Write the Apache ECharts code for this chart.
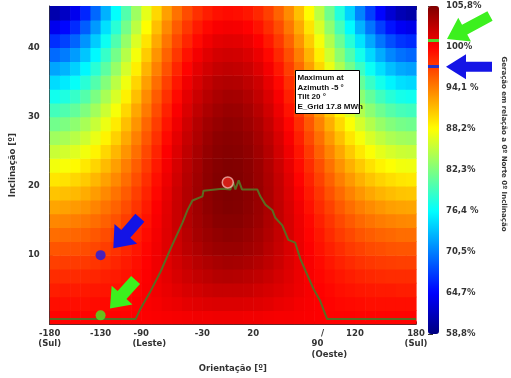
<!DOCTYPE html>
<html><head><meta charset="utf-8">
<script src="https://cdn.jsdelivr.net/npm/echarts@6/dist/echarts.min.js"></script>
<style>html,body{margin:0;padding:0;background:#fff}#c{width:511px;height:378px}</style>
</head><body><div id="c"></div>
<script>
// ---- data ----
const orientacao = [-175,-165,-155,-145,-135,-125,-115,-105,-95,-85,-75,-65,-55,-45,-35,-25,-15,-5,5,15,25,35,45,55,65,75,85,95,105,115,125,135,145,155,165,175];
const inclinacao = [1,3,5,7,9,11,13,15,17,19,21,23,25,27,29,31,33,35,37,39,41,43,45];
const geracao = [
[99.8,99.8,99.8,99.8,99.8,99.8,99.9,99.9,100,100,100.1,100.2,100.3,100.4,100.5,100.5,100.6,100.6,100.6,100.5,100.5,100.4,100.3,100.3,100.2,100.1,100,99.9,99.9,99.9,99.8,99.8,99.8,99.8,99.8,99.8],
[99.3,99.3,99.3,99.3,99.4,99.5,99.6,99.7,99.9,100.1,100.3,100.6,100.8,101.1,101.3,101.5,101.6,101.6,101.6,101.5,101.4,101.2,100.9,100.7,100.4,100.2,100,99.8,99.6,99.5,99.4,99.3,99.3,99.3,99.3,99.3],
[98.6,98.7,98.7,98.8,98.9,99.0,99.2,99.4,99.7,100.1,100.5,100.9,101.3,101.7,102.0,102.3,102.5,102.5,102.5,102.4,102.1,101.8,101.5,101.1,100.7,100.3,99.9,99.6,99.3,99.1,98.9,98.8,98.7,98.7,98.6,98.6],
[97.9,97.9,98.0,98.1,98.2,98.5,98.7,99.1,99.5,100.0,100.6,101.1,101.7,102.2,102.7,103.0,103.3,103.4,103.3,103.1,102.8,102.4,101.9,101.4,100.8,100.2,99.7,99.3,98.9,98.6,98.3,98.1,98.0,97.9,97.9,97.9],
[97.0,97.1,97.2,97.3,97.5,97.8,98.2,98.7,99.3,99.9,100.6,101.3,102.0,102.6,103.2,103.6,103.9,104.1,104.0,103.8,103.4,102.9,102.3,101.6,100.9,100.2,99.5,98.9,98.4,98.0,97.6,97.4,97.2,97.1,97.0,97.0],
[96.0,96.1,96.2,96.4,96.7,97.1,97.6,98.2,98.9,99.7,100.5,101.4,102.2,103.0,103.6,104.2,104.5,104.6,104.6,104.3,103.9,103.2,102.5,101.7,100.9,100.0,99.2,98.5,97.9,97.3,96.9,96.5,96.3,96.1,96.0,96.0],
[94.9,95.0,95.2,95.5,95.9,96.4,97.0,97.7,98.5,99.4,100.4,101.4,102.3,103.2,104.0,104.5,104.9,105.1,105.0,104.7,104.2,103.5,102.7,101.8,100.8,99.8,98.9,98.0,97.2,96.6,96.0,95.6,95.3,95.1,94.9,94.9],
[93.7,93.8,94.1,94.4,94.9,95.5,96.2,97.1,98.1,99.1,100.2,101.3,102.4,103.4,104.2,104.8,105.3,105.4,105.4,105.0,104.5,103.7,102.8,101.8,100.7,99.6,98.5,97.5,96.6,95.8,95.1,94.6,94.2,93.9,93.7,93.6],
[92.3,92.5,92.8,93.2,93.8,94.6,95.4,96.4,97.5,98.7,100.0,101.2,102.4,103.4,104.3,105.0,105.5,105.7,105.6,105.2,104.6,103.8,102.8,101.7,100.5,99.2,98.0,96.9,95.8,94.9,94.1,93.5,93.0,92.6,92.4,92.3],
[90.9,91.1,91.4,92.0,92.7,93.6,94.6,95.7,97.0,98.3,99.6,101.0,102.3,103.4,104.4,105.1,105.6,105.8,105.7,105.3,104.7,103.8,102.7,101.5,100.2,98.8,97.5,96.2,95.0,93.9,93.0,92.2,91.6,91.2,90.9,90.8],
[89.3,89.5,90.0,90.6,91.5,92.5,93.6,94.9,96.3,97.8,99.3,100.7,102.1,103.3,104.3,105.1,105.6,105.8,105.7,105.3,104.6,103.7,102.6,101.3,99.8,98.4,96.9,95.5,94.1,92.9,91.8,90.9,90.2,89.7,89.3,89.2],
[87.6,87.9,88.4,89.2,90.1,91.3,92.6,94.1,95.6,97.2,98.8,100.4,101.8,103.1,104.1,105.0,105.5,105.7,105.6,105.2,104.5,103.5,102.3,101.0,99.4,97.9,96.3,94.7,93.2,91.8,90.6,89.5,88.7,88.1,87.6,87.5],
[85.7,86.1,86.7,87.6,88.7,90.0,91.5,93.1,94.8,96.6,98.3,100.0,101.5,102.8,103.9,104.8,105.3,105.5,105.4,105.0,104.3,103.3,102.0,100.6,99.0,97.3,95.5,93.8,92.2,90.6,89.2,88.0,87.0,86.3,85.8,85.6],
[83.8,84.2,84.9,85.9,87.2,88.7,90.3,92.1,94.0,95.9,97.7,99.5,101.1,102.5,103.6,104.5,105.1,105.3,105.2,104.8,104.0,103.0,101.7,100.2,98.5,96.6,94.8,92.9,91.1,89.3,87.8,86.4,85.3,84.4,83.9,83.7],
[81.7,82.2,83.0,84.2,85.6,87.3,89.1,91.1,93.1,95.2,97.1,99.0,100.6,102.1,103.3,104.2,104.7,105.0,104.9,104.4,103.7,102.6,101.2,99.7,97.9,95.9,93.9,91.9,89.9,88.0,86.2,84.7,83.4,82.5,81.9,81.6],
[79.5,80.1,81.0,82.3,83.9,85.8,87.8,90.0,92.2,94.3,96.4,98.4,100.1,101.6,102.8,103.7,104.3,104.6,104.5,104.0,103.2,102.1,100.7,99.1,97.2,95.2,93.0,90.8,88.7,86.6,84.6,82.9,81.5,80.4,79.7,79.4],
[77.2,77.8,78.9,80.3,82.1,84.2,86.4,88.8,91.1,93.5,95.7,97.7,99.5,101.1,102.3,103.2,103.8,104.1,104.0,103.5,102.7,101.6,100.2,98.5,96.5,94.4,92.1,89.7,87.3,85.1,82.9,81.0,79.4,78.2,77.4,77.1],
[74.8,75.5,76.7,78.3,80.2,82.5,85.0,87.5,90.1,92.6,94.9,97.0,98.9,100.5,101.7,102.7,103.3,103.5,103.4,102.9,102.2,101.0,99.6,97.8,95.8,93.5,91.1,88.5,86.0,83.5,81.1,79.0,77.3,75.9,75.0,74.7],
[72.3,73.0,74.3,76.1,78.3,80.7,83.4,86.2,88.9,91.6,94.0,96.2,98.2,99.8,101.1,102.0,102.6,102.8,102.7,102.3,101.5,100.4,98.9,97.1,95.0,92.6,90.0,87.3,84.5,81.8,79.2,76.9,75.0,73.5,72.5,72.1],
[69.6,70.4,71.9,73.8,76.2,78.9,81.8,84.8,87.7,90.5,93.1,95.4,97.4,99.1,100.4,101.3,101.9,102.1,102.0,101.6,100.8,99.6,98.1,96.3,94.1,91.6,88.9,86.0,83.0,80.1,77.3,74.7,72.6,70.9,69.9,69.4],
[66.8,67.7,69.3,71.5,74.1,77.0,80.1,83.3,86.5,89.4,92.1,94.5,96.6,98.2,99.5,100.5,101.1,101.3,101.2,100.8,100.0,98.8,97.3,95.4,93.1,90.5,87.7,84.6,81.4,78.2,75.2,72.5,70.1,68.3,67.1,66.6],
[63.9,64.9,66.6,69.0,71.8,75.0,78.3,81.8,85.1,88.2,91.1,93.6,95.7,97.4,98.7,99.6,100.2,100.4,100.3,99.9,99.1,97.9,96.4,94.4,92.1,89.4,86.4,83.1,79.7,76.3,73.0,70.1,67.5,65.5,64.2,63.7],
[60.9,62.0,63.9,66.4,69.5,72.9,76.5,80.2,83.7,87.0,90.0,92.6,94.7,96.4,97.7,98.6,99.2,99.4,99.3,98.9,98.1,97.0,95.4,93.5,91.1,88.3,85.1,81.6,78.0,74.4,70.8,67.6,64.8,62.7,61.3,60.7]
];
// optimal tilt per orientation (olive line)
const linhaAz   = [-180,-95.6,-90.7,-80.9,-71.1,-61.3,-49.5,-44.6,-39.7,-29.9,-28.9,-10.3,-2.4,0.2,2.5,5.7,9,24,27,32,38.8,41.7,48.6,54.5,61.3,66.2,73,79,85.8,92.7,180];
const linhaTilt = [0.76,0.76,2.3,4.8,7.6,10.9,14.7,16.5,17.9,18.5,19.3,19.6,19.5,20.6,19.5,20.8,19.5,19.5,18.5,17.3,16.5,15.4,14.3,12.2,11.8,9.5,7.2,5.2,3.4,0.76,0.76];
const pontoMax   = [-5, 20.5];
const pontoAzul  = [-130, 10];
const pontoVerde = [-130, 1.3];
const marcaVerde = 100.93;
const marcaAzul  = 97.1;
const escalaMin = 58.8, escalaMax = 105.8, escalaPasso = 5.875;
const escalaLabels = ['58,8%','64,7%','70,5%','76,4 %','82,3%','88,2%','94,1 %','100%','105,8%'];
const xTickValues = [-180,-130,-90,-30,20,90,120,180];
const xTickLabels = ['-180\n(Sul)','-130','-90\n(Leste)','-30','20','/\n90\n(Oeste)','120','180\n(Sul)'];
const yTickValues = [10,20,30,40];
const textoNorte = '0 (Norte)';
const textoMax = 'Maximum at\nAzimuth -5 °\nTilt 20 °\nE_Grid 17.8 MWh';
const tituloEscala = 'Geração em relação a 0º Norte 0º Inclinação';

// ---- chart ----
const chart = echarts.init(document.getElementById('c'), null, {width: 511, height: 378});
const jet = ['#00007f','#0000ff','#007fff','#00ffff','#7fff7f','#ffff00','#ff7f00','#ff0000','#7f0000'];
const cellW = orientacao[1] - orientacao[0];
const cellH = inclinacao[1] - inclinacao[0];
const dados = [];
inclinacao.forEach((t, r) => orientacao.forEach((a, c) => dados.push([a, t, geracao[r][c]])));

const axisColor = '#333';
const font = {fontFamily: 'DejaVu Sans', fontWeight: 'bold', fontSize: 8.5, color: '#333'};
const lineStyleMap = {'(Leste)': 'r8', '90': 'l7', '/': 'l2', '(Oeste)': 'r5'};
const baseRich = Object.assign({lineHeight: 10.5}, font);
const rich = {
  a: baseRich,
  r8: Object.assign({}, baseRich, {padding: [0, 0, 0, 16]}),
  l7: Object.assign({}, baseRich, {padding: [0, 14, 0, 0]}),
  l2: Object.assign({}, baseRich, {padding: [0, 4, 0, 0]}),
  r5: Object.assign({}, baseRich, {padding: [0, 0, 0, 10]})
};

const option = {
  animation: false,
  backgroundColor: '#fff',
  grid: [
    {left: 49, top: 6, width: 367, height: 328, show: false},
    {left: 428, top: 6, width: 11, height: 328, show: false}
  ],
  xAxis: [
    {type: 'value', gridIndex: 0, min: -180, max: 180, interval: 10, position: 'bottom',
     name: 'Orientação [º]', nameLocation: 'middle', nameGap: 31, nameTextStyle: font,
     axisLine: {show: true, onZero: false, lineStyle: {color: axisColor}},
     axisTick: {show: true, inside: true, length: 3, lineStyle: {color: axisColor}},
     axisLabel: {margin: 4, rich: rich, formatter: function (v) {
        const i = xTickValues.findIndex(t => Math.abs(t - v) < 1e-6);
        if (i < 0) return '';
        return xTickLabels[i].split('\n').map(s => '{' + (lineStyleMap[s] || 'a') + '|' + s + '}').join('\n');
     }},
     splitLine: {show: false}},
    {type: 'value', gridIndex: 0, min: -180, max: 180, interval: 12, position: 'top',
     axisLine: {show: true, onZero: false, lineStyle: {color: axisColor}},
     axisTick: {show: true, inside: true, length: 4, lineStyle: {color: axisColor}},
     axisLabel: {show: false}, splitLine: {show: false}},
    {type: 'value', gridIndex: 1, min: 0, max: 1, show: false}
  ],
  yAxis: [
    {type: 'value', gridIndex: 0, min: 0, max: 46, interval: 5,
     name: 'Inclinação [º]', nameLocation: 'middle', nameGap: 32, nameTextStyle: font,
     axisLine: {show: true, onZero: false, lineStyle: {color: axisColor}},
     axisTick: {show: true, inside: true, length: 3, lineStyle: {color: axisColor}},
     axisLabel: Object.assign({margin: 10, formatter: v => yTickValues.indexOf(v) >= 0 ? String(v) : ''}, font),
     splitLine: {show: false}},
    {type: 'value', gridIndex: 1, min: escalaMin, max: escalaMax, interval: escalaPasso, position: 'right',
     axisLine: {show: false},
     axisTick: {show: true, length: 5, lineStyle: {color: axisColor}},
     minorTick: {show: true, splitNumber: 2, length: 3, lineStyle: {color: axisColor}},
     axisLabel: Object.assign({margin: 7, formatter: v => escalaLabels[Math.round((v - escalaMin) / escalaPasso)] || ''}, font),
     splitLine: {show: false}, minorSplitLine: {show: false}}
  ],
  visualMap: {
    type: 'continuous', min: escalaMin, max: escalaMax, dimension: 2, seriesIndex: 0,
    left: 428, top: 6, itemWidth: 11, itemHeight: 328, padding: 0,
    calculable: false, hoverLink: false, inRange: {color: jet}
  },
  series: [
    {type: 'custom', xAxisIndex: 0, yAxisIndex: 0, clip: true, data: dados, z: 1,
     renderItem: function (params, api) {
       const a = api.value(0), t = api.value(1);
       const p0 = api.coord([a - cellW / 2, t + cellH / 2]);
       const p1 = api.coord([a + cellW / 2, t - cellH / 2]);
       return {type: 'rect', shape: {x: p0[0], y: p0[1], width: p1[0] - p0[0] + 0.6, height: p1[1] - p0[1] + 0.6},
               style: {fill: api.visual('color')}};
     }},
    {type: 'line', xAxisIndex: 0, yAxisIndex: 0, z: 3, symbol: 'none', silent: true,
     data: linhaAz.map((a, i) => [a, linhaTilt[i]]),
     lineStyle: {color: '#5b6b22', width: 2}},
    {type: 'scatter', xAxisIndex: 0, yAxisIndex: 0, z: 4, silent: true,
     data: [
       {value: pontoAzul, symbolSize: 10, itemStyle: {color: '#1a1ae8'}},
       {value: pontoVerde, symbolSize: 10, itemStyle: {color: '#44ee22'}},
       {value: pontoMax, symbolSize: 11, itemStyle: {color: '#e8261c', borderColor: '#f3b4ac', borderWidth: 1.5}}
     ]},
    {type: 'scatter', xAxisIndex: 0, yAxisIndex: 0, z: 4, silent: true, symbolSize: 1,
     itemStyle: {opacity: 0},
     data: [[0, 2.2]],
     label: {show: true, position: 'inside', formatter: textoNorte, fontFamily: 'DejaVu Sans', fontWeight: 'bold', fontSize: 8.5, color: '#5a0a06'}},
    {type: 'line', xAxisIndex: 2, yAxisIndex: 1, data: [], symbol: 'none',
     markLine: {silent: true, symbol: ['none', 'none'], label: {show: false}, animation: false,
       data: [
         {yAxis: marcaVerde, lineStyle: {color: '#4fd630', width: 3, type: 'solid'}},
         {yAxis: marcaAzul, lineStyle: {color: '#2233cc', width: 3, type: 'solid'}}
       ]}}
  ]
};
chart.setOption(option);

function arrow(tail, tip, headLen, headW, shaftW, color) {
  const dx = tip[0] - tail[0], dy = tip[1] - tail[1];
  const L = Math.hypot(dx, dy);
  const ux = dx / L, uy = dy / L, nx = -uy, ny = ux;
  const bx = tip[0] - ux * headLen, by = tip[1] - uy * headLen;
  return {type: 'polygon', z: 100, silent: true, style: {fill: color},
    shape: {points: [
      [tail[0] + nx * shaftW / 2, tail[1] + ny * shaftW / 2],
      [bx + nx * shaftW / 2, by + ny * shaftW / 2],
      [bx + nx * headW / 2, by + ny * headW / 2],
      [tip[0], tip[1]],
      [bx - nx * headW / 2, by - ny * headW / 2],
      [bx - nx * shaftW / 2, by - ny * shaftW / 2],
      [tail[0] - nx * shaftW / 2, tail[1] - ny * shaftW / 2]
    ]}};
}
const px = p => chart.convertToPixel({xAxisIndex: 0, yAxisIndex: 0}, p);
const yVerde = chart.convertToPixel({yAxisIndex: 1}, marcaVerde);
const yAzul = chart.convertToPixel({yAxisIndex: 1}, marcaAzul);
const barRight = chart.convertToPixel({xAxisIndex: 2}, 1);

chart.setOption({graphic: [
  arrow(px([-91.4, 15.4]), px([-117.5, 11.0]), 19, 30, 12, '#1414e6'),
  arrow(px([-95.6, 6.4]), px([-120.8, 2.3]), 18, 28, 12, '#3cf01e'),
  arrow([barRight + 51, yVerde - 24], [barRight + 8, yVerde - 1], 20, 27, 11, '#3cf01e'),
  arrow([barRight + 53, yAzul], [barRight + 7, yAzul], 20, 25, 10, '#1414e6'),
  {type: 'rect', z: 100, shape: {x: 295.5, y: 70.5, width: 64, height: 43},
   style: {fill: '#fff', stroke: '#000', lineWidth: 1}},
  {type: 'text', z: 101, x: 297.5, y: 73.5,
   style: {text: textoMax, fontFamily: 'Liberation Sans', fontWeight: 'bold', fontSize: 8, lineHeight: 9.5, fill: '#111', verticalAlign: 'top'}},
  {type: 'text', z: 101, x: 504, y: 144, rotation: -Math.PI / 2,
   style: {text: tituloEscala, fontFamily: 'DejaVu Sans', fontWeight: 'bold', fontSize: 7, fill: '#333', align: 'center', verticalAlign: 'middle'}}
]});
</script>
</body></html>
